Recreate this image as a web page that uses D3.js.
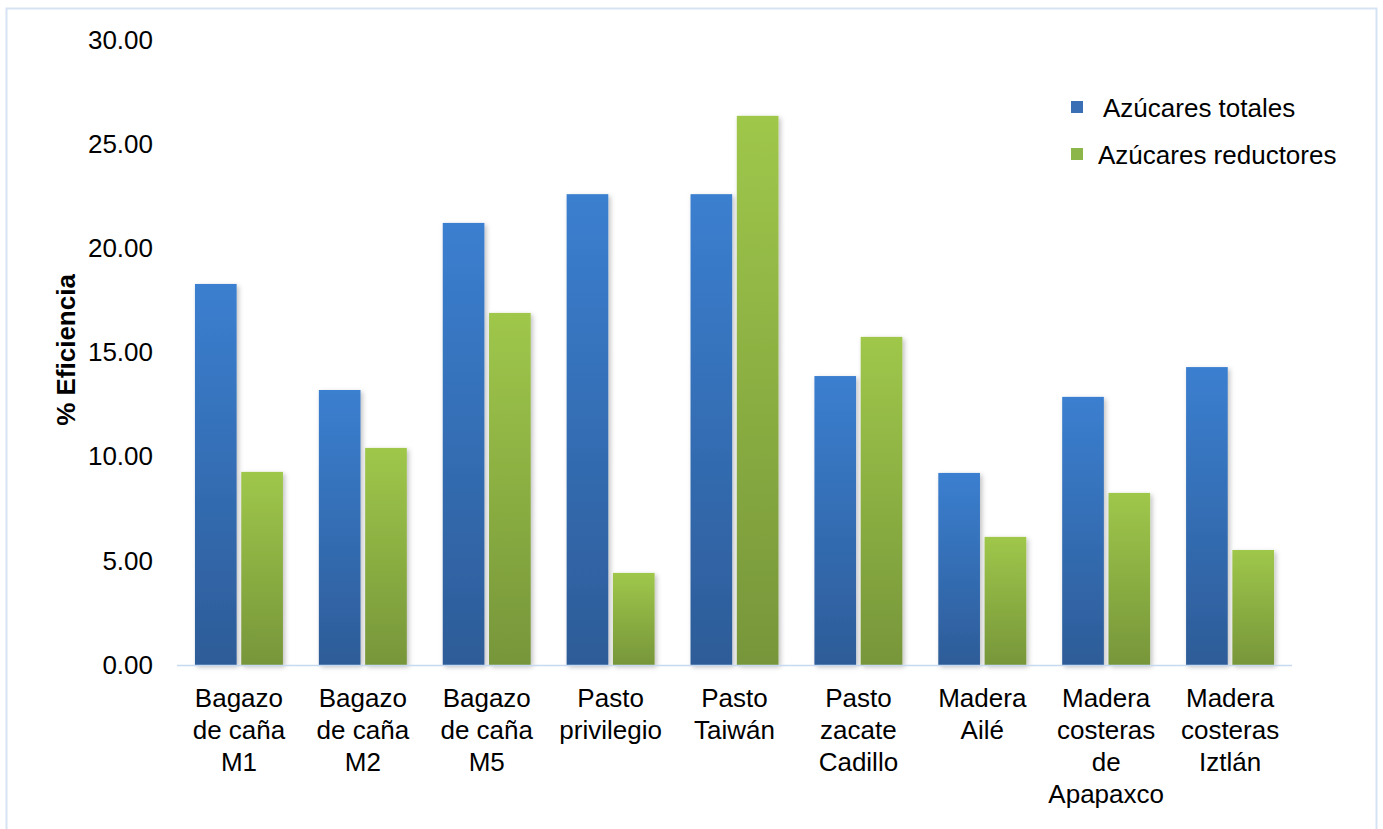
<!DOCTYPE html>
<html>
<head>
<meta charset="utf-8">
<script src="https://cdn.jsdelivr.net/npm/d3@7"></script>
<style>
  body { margin: 0; background: #fff; }
  text { font-family: "Liberation Sans", Arial, sans-serif; fill: #000; }
</style>
</head>
<body>
<div id="chart"></div>
<script>
// data
const categories = [
  "Bagazo de caña M1", "Bagazo de caña M2", "Bagazo de caña M5",
  "Pasto privilegio", "Pasto Taiwán", "Pasto zacate Cadillo",
  "Madera Ailé", "Madera costeras de Apapaxco", "Madera costeras Iztlán"
];
const labelLines = [
  ["Bagazo", "de caña", "M1"], ["Bagazo", "de caña", "M2"], ["Bagazo", "de caña", "M5"],
  ["Pasto", "privilegio"], ["Pasto", "Taiwán"], ["Pasto", "zacate", "Cadillo"],
  ["Madera", "Ailé"], ["Madera", "costeras", "de", "Apapaxco"], ["Madera", "costeras", "Iztlán"]
];
const seriesNames = ["Azúcares totales", "Azúcares reductores"];
const totales = [18.29, 13.2, 21.22, 22.6, 22.6, 13.87, 9.22, 12.87, 14.3];
const reductores = [9.27, 10.42, 16.9, 4.42, 26.36, 15.75, 6.15, 8.26, 5.52];
const yTicks = [0, 5, 10, 15, 20, 25, 30];

const W = 1383, H = 829;
const margin = { top: 40, left: 177, right: 91, bottom: 164 };
const width = W - margin.left - margin.right;
const height = H - margin.top - margin.bottom;

const svg = d3.select("#chart").append("svg")
  .attr("width", W).attr("height", H);

const defs = svg.append("defs");
const grads = [["gBlue", "#3b7fd0", "#2d5c98"], ["gGreen", "#9fc74a", "#77963a"]];
grads.forEach(([id, c0, c1]) => {
  const g = defs.append("linearGradient").attr("id", id)
    .attr("x1", 0).attr("y1", 0).attr("x2", 0).attr("y2", 1);
  g.append("stop").attr("offset", "0%").attr("stop-color", c0);
  g.append("stop").attr("offset", "100%").attr("stop-color", c1);
});
const shadow = defs.append("filter").attr("id", "shadow")
  .attr("x", "-30%").attr("y", "-10%").attr("width", "160%").attr("height", "120%");
shadow.append("feDropShadow").attr("dx", 2).attr("dy", 2)
  .attr("stdDeviation", 2.5).attr("flood-color", "#000").attr("flood-opacity", 0.25);

// outer border
svg.append("rect")
  .attr("x", 6.5).attr("y", 8.5).attr("width", 1370).attr("height", 840)
  .attr("fill", "none").attr("stroke", "#d5e3f4").attr("stroke-width", 2);

const g = svg.append("g").attr("transform", `translate(${margin.left},${margin.top})`);

const x = d3.scaleBand().domain(categories).range([0, width]).paddingInner(0.29).paddingOuter(0.145);
const xs = d3.scaleBand().domain(seriesNames).range([0, x.bandwidth()]).paddingInner(0.1);
const y = d3.scaleLinear().domain([0, 30]).range([height, 0]);

// y axis labels
const yAxis = d3.axisLeft(y).tickValues(yTicks).tickFormat(d3.format(".2f")).tickSize(0).tickPadding(24);
const ya = g.append("g").call(yAxis);
ya.select(".domain").remove();
ya.selectAll("text").attr("font-size", 26).attr("fill", "#000")
  .style("font-family", "'Liberation Sans', Arial, sans-serif");

// bars
const rows = categories.map((c, i) => ({ cat: c, vals: [totales[i], reductores[i]] }));
const grp = g.selectAll(".cat").data(rows).join("g")
  .attr("class", "cat")
  .attr("transform", d => `translate(${x(d.cat)},0)`);
grp.selectAll("rect").data(d => d.vals.map((v, k) => ({ s: seriesNames[k], v, k })))
  .join("rect")
  .attr("x", d => xs(d.s))
  .attr("y", d => y(d.v))
  .attr("width", xs.bandwidth())
  .attr("height", d => y(0) - y(d.v))
  .attr("fill", d => d.k === 0 ? "url(#gBlue)" : "url(#gGreen)")
  .attr("filter", "url(#shadow)");

// baseline
g.append("line")
  .attr("x1", 0).attr("x2", width).attr("y1", y(0) + 0.5).attr("y2", y(0) + 0.5)
  .attr("stroke", "#c6d9f0").attr("stroke-width", 1.5);

// category labels
const lab = g.selectAll(".xlab").data(categories).join("text")
  .attr("class", "xlab")
  .attr("text-anchor", "middle")
  .attr("font-size", 26)
  .attr("transform", d => `translate(${x(d) + x.bandwidth() / 2},${height + 42})`);
lab.selectAll("tspan").data((d, i) => labelLines[i]).join("tspan")
  .attr("x", 0).attr("dy", (d, i) => i === 0 ? 0 : 32).text(d => d);

// y title
g.append("text")
  .attr("transform", `translate(${75 - margin.left},${350 - margin.top}) rotate(-90)`)
  .attr("text-anchor", "middle")
  .attr("font-size", 26).attr("font-weight", "bold")
  .text("% Eficiencia");

// legend
const legend = svg.append("g").attr("transform", "translate(1071,101)");
const colors = ["#3a6fb6", "#8db64a"];
seriesNames.forEach((s, i) => {
  const row = legend.append("g").attr("transform", `translate(0,${i * 47})`);
  row.append("rect").attr("width", 12).attr("height", 12).attr("fill", colors[i]);
  row.append("text").attr("x", i === 0 ? 32 : 27).attr("y", 16)
    .attr("font-size", 26).text(s);
});
</script>
</body>
</html>
